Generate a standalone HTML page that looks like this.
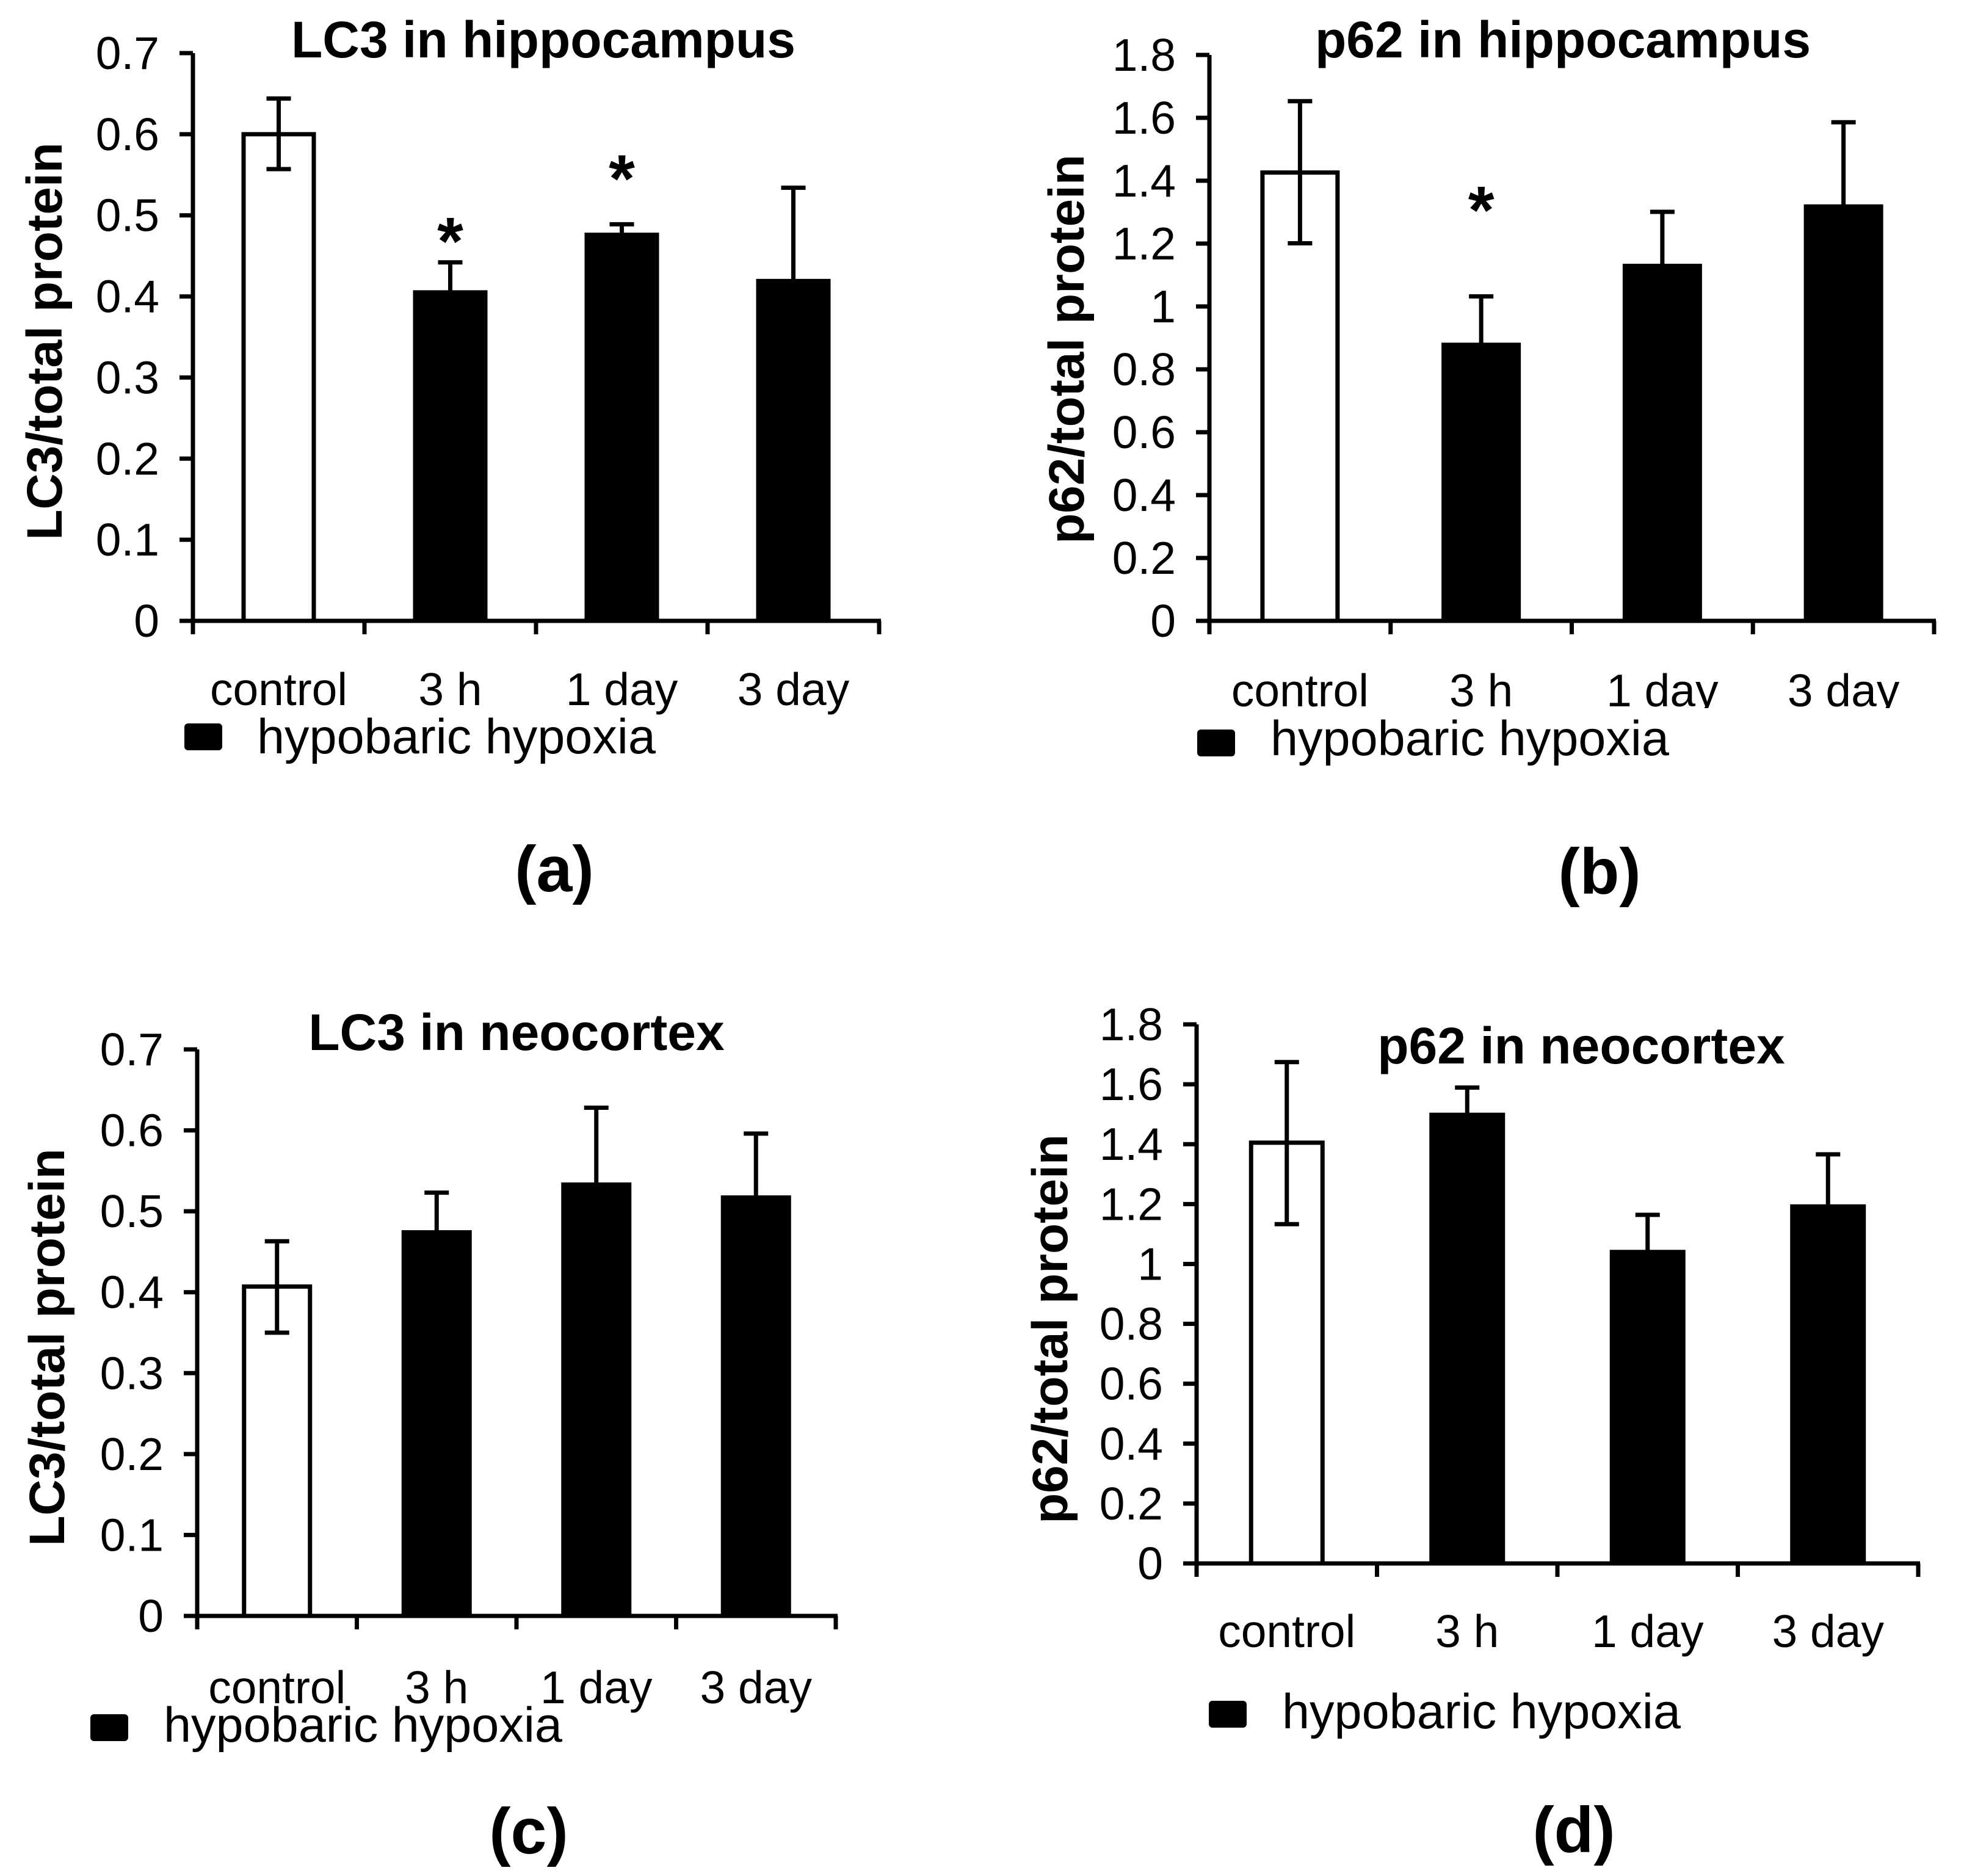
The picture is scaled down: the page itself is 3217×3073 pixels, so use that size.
<!DOCTYPE html>
<html><head><meta charset="utf-8">
<style>
html,body{margin:0;padding:0;background:#fff;}
svg{display:block;}
text{font-family:"Liberation Sans",Arial,sans-serif;fill:#000;}
</style></head>
<body>
<svg id="fig" width="3217" height="3073" viewBox="0 0 3217 3073" xmlns="http://www.w3.org/2000/svg">
<rect x="0" y="0" width="3217" height="3073" fill="#fff"/>
</svg>
<script>
const categories = ["control", "3 h", "1 day", "3 day"];
const lc3HippoValues = [0.600, 0.405, 0.476, 0.419];
const lc3HippoErrHi = [0.644, 0.442, 0.489, 0.534];
const lc3HippoErrLo = [0.557, null, null, null];
const lc3HippoStars = [null, 0.481, 0.558, null];
const lc3Ticks = ["0", "0.1", "0.2", "0.3", "0.4", "0.5", "0.6", "0.7"];
const lc3TickValues = [0, 0.1, 0.2, 0.3, 0.4, 0.5, 0.6, 0.7];

const p62HippoValues = [1.426, 0.878, 1.129, 1.318];
const p62HippoErrHi = [1.653, 1.032, 1.301, 1.586];
const p62HippoErrLo = [1.201, null, null, null];
const p62HippoStars = [null, 1.34, null, null];
const p62Ticks = ["0", "0.2", "0.4", "0.6", "0.8", "1", "1.2", "1.4", "1.6", "1.8"];
const p62TickValues = [0, 0.2, 0.4, 0.6, 0.8, 1.0, 1.2, 1.4, 1.6, 1.8];

const lc3NeoValues = [0.407, 0.474, 0.533, 0.517];
const lc3NeoErrHi = [0.463, 0.523, 0.628, 0.596];
const lc3NeoErrLo = [0.350, null, null, null];
const lc3NeoStars = [null, null, null, null];

const p62NeoValues = [1.405, 1.498, 1.040, 1.192];
const p62NeoErrHi = [1.674, 1.589, 1.164, 1.366];
const p62NeoErrLo = [1.133, null, null, null];
const p62NeoStars = [null, null, null, null];

const NS = "http://www.w3.org/2000/svg";
const svg = document.getElementById('fig');
function mk(tag, attrs, parent) {
  const e = document.createElementNS(NS, tag);
  for (const k in attrs) e.setAttribute(k, attrs[k]);
  (parent || svg).appendChild(e);
  return e;
}
function txt(s, attrs, parent) {
  const t = mk('text', attrs, parent);
  t.textContent = s;
  return t;
}

function panel(cfg) {
  const g = mk('g', {});
  
  
  const L = cfg.left, R = cfg.right, T = cfg.top, Z = cfg.zero;
  const yS = v => Z - (v / cfg.ymax) * (Z - T);
  const cw = (R - L) / categories.length;
  const xC = i => L + cw * (i + 0.5);
  const bw = cfg.barW;
  const lw = 7;

  cfg.tickValues.forEach((v, i) => {
    const y = yS(v);
    const tk = mk('line', {x1: L - 22, x2: L, y1: y, y2: y, stroke: '#000', 'stroke-width': lw}, g);
    
    
    const lb = txt(cfg.ticks[i], {x: L - 55, y: y + 26, 'text-anchor': 'end', 'font-size': 75}, g);
    
    
  });

  cfg.values.forEach((v, i) => {
    const x = xC(i) - bw / 2;
    const y = yS(v);
    const b = mk('rect', {x: x, y: y, width: bw, height: Z - y,
      fill: i === 0 ? '#fff' : '#000', stroke: '#000', 'stroke-width': lw}, g);
    
    
    const hi = yS(cfg.errHi[i]);
    const lo = cfg.errLo[i] === null ? y : yS(cfg.errLo[i]);
    const eb = mk('path', {d: 'M' + xC(i) + ' ' + lo + 'V' + hi + 'M' + (xC(i) - 20) + ' ' + hi + 'H' + (xC(i) + 20) +
      (cfg.errLo[i] === null ? '' : 'M' + (xC(i) - 20) + ' ' + lo + 'H' + (xC(i) + 20)),
      stroke: '#000', 'stroke-width': lw, fill: 'none'}, g);
    
    
    if (cfg.stars[i] !== null) {
      const s = txt('*', {x: xC(i), y: yS(cfg.stars[i]) + 55, 'text-anchor': 'middle', 'font-size': 110, 'font-weight': 'bold'}, g);
      
      
    }
  });

  const ya = mk('line', {x1: L, x2: L, y1: T, y2: Z + 3, stroke: '#000', 'stroke-width': lw}, g);
  
  
  const xa = mk('line', {x1: L - 22, x2: R + 3, y1: Z, y2: Z, stroke: '#000', 'stroke-width': lw}, g);
  
  
  for (let i = 0; i <= categories.length; i++) {
    const x = L + cw * i;
    const t = mk('line', {x1: x, x2: x, y1: Z, y2: Z + 22, stroke: '#000', 'stroke-width': lw}, g);
    
    
  }
  categories.forEach((c, i) => {
    const t = txt(c, {x: xC(i), y: cfg.catY, 'text-anchor': 'middle', 'font-size': 75}, g);
    if (cfg.clip) t.setAttribute('clip-path', 'url(#' + cfg.clip + ')');
    
    
  });
  const ti = txt(cfg.title, {x: cfg.titleX, y: cfg.titleY, 'text-anchor': 'middle', 'font-size': 84, 'font-weight': 'bold'}, g);
  
  
  const yt = txt(cfg.yTitle, {x: 0, y: 0, 'text-anchor': 'middle', 'font-size': 82, 'font-weight': 'bold',
    transform: 'translate(' + (cfg.yTitleX + 29) + ',' + cfg.yTitleY + ') rotate(-90)'}, g);
  
  
  const lg = mk('g', {}, g);
  
  
  const sq = mk('rect', {x: cfg.legX, y: cfg.legY, width: 62, height: 44, rx: 6, fill: '#000'}, lg);
  
  
  const lt = txt('hypobaric hypoxia', {x: cfg.legTextX, y: cfg.legTextY, 'font-size': 81}, lg);
  
  
  const pl = txt(cfg.letter, {x: cfg.letterX, y: cfg.letterY, 'text-anchor': 'middle', 'font-size': 106, 'font-weight': 'bold'}, g);
  
  
}

const defs = mk('defs', {});
const cp = mk('clipPath', {id: 'clipB'}, defs);
mk('rect', {x: 1900, y: 1050, width: 1300, height: 110}, cp);

panel({name: 'panel-a-lc3-hippocampus', left: 316, right: 1440, top: 87, zero: 1017, ymax: 0.7, barW: 115,
  values: lc3HippoValues, errHi: lc3HippoErrHi, errLo: lc3HippoErrLo, stars: lc3HippoStars,
  ticks: lc3Ticks, tickValues: lc3TickValues, catY: 1155,
  title: 'LC3 in hippocampus', titleX: 890, titleY: 94,
  yTitle: 'LC3/total protein', yTitleX: 72, yTitleY: 559,
  legX: 302, legY: 1185, legTextX: 421, legTextY: 1234, letter: '(a)', letterX: 908, letterY: 1460});

panel({name: 'panel-b-p62-hippocampus', left: 1981, right: 3168, top: 90, zero: 1017, ymax: 1.8, barW: 123,
  values: p62HippoValues, errHi: p62HippoErrHi, errLo: p62HippoErrLo, stars: p62HippoStars,
  ticks: p62Ticks, tickValues: p62TickValues, catY: 1157, clip: 'clipB',
  title: 'p62 in hippocampus', titleX: 2560, titleY: 94,
  yTitle: 'p62/total protein', yTitleX: 1746, yTitleY: 572,
  legX: 1961, legY: 1195, legTextX: 2081, legTextY: 1237, letter: '(b)', letterX: 2620, letterY: 1464});

panel({name: 'panel-c-lc3-neocortex', left: 323, right: 1369, top: 1719, zero: 2647, ymax: 0.7, barW: 108,
  values: lc3NeoValues, errHi: lc3NeoErrHi, errLo: lc3NeoErrLo, stars: lc3NeoStars,
  ticks: lc3Ticks, tickValues: lc3TickValues, catY: 2790,
  title: 'LC3 in neocortex', titleX: 846, titleY: 1720,
  yTitle: 'LC3/total protein', yTitleX: 76, yTitleY: 2207,
  legX: 148, legY: 2808, legTextX: 268, legTextY: 2853, letter: '(c)', letterX: 866, letterY: 3036});

panel({name: 'panel-d-p62-neocortex', left: 1960, right: 3142, top: 1678, zero: 2561, ymax: 1.8, barW: 117,
  values: p62NeoValues, errHi: p62NeoErrHi, errLo: p62NeoErrLo, stars: p62NeoStars,
  ticks: p62Ticks, tickValues: p62TickValues, catY: 2698,
  title: 'p62 in neocortex', titleX: 2590, titleY: 1742,
  yTitle: 'p62/total protein', yTitleX: 1719, yTitleY: 2177,
  legX: 1980, legY: 2786, legTextX: 2100, legTextY: 2831, letter: '(d)', letterX: 2578, letterY: 3034});
</script>
</body></html>
